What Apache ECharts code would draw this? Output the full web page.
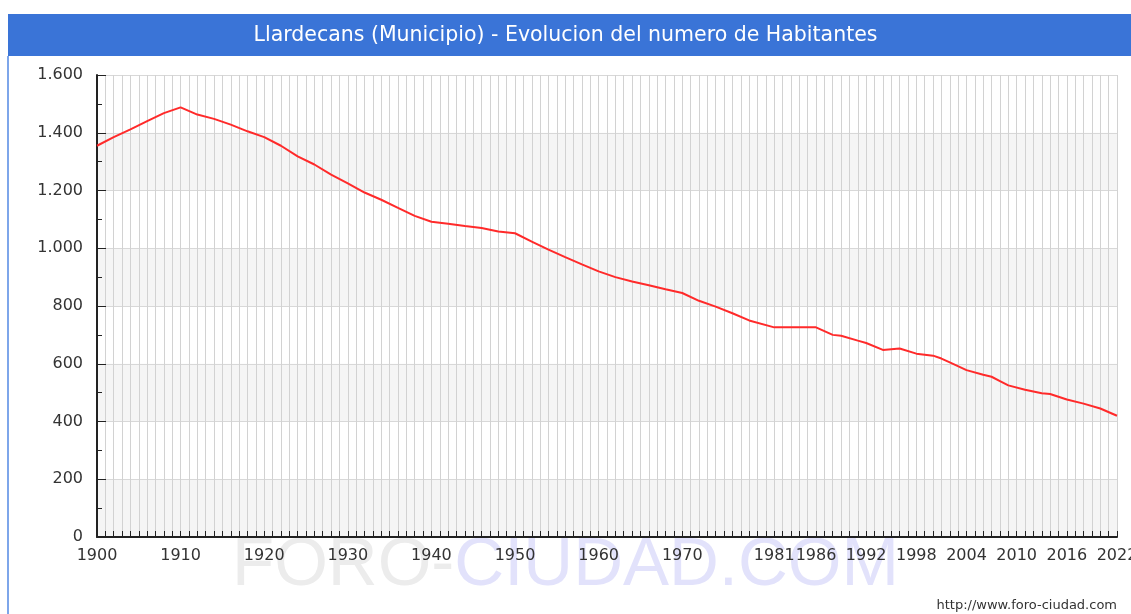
<!DOCTYPE html>
<html>
<head>
<meta charset="utf-8">
<title>Llardecans - Evolucion del numero de Habitantes</title>
<script src="https://cdn.jsdelivr.net/npm/echarts@6/dist/echarts.min.js"></script>
<style>
  html, body { margin: 0; padding: 0; background: #fff; }
  #chart { width: 1131px; height: 614px; }
</style>
</head>
<body>
<div id="chart"></div>
<script>
// años y habitantes
const years = [1900, 1902, 1904, 1906, 1908, 1910, 1912, 1914, 1916, 1918,
    1920, 1922, 1924, 1926, 1928, 1930, 1932, 1934, 1936, 1938,
    1940, 1942, 1944, 1946, 1948, 1950, 1952, 1954, 1956, 1958,
    1960, 1962, 1964, 1966, 1968, 1970, 1972, 1974, 1976, 1978,
    1981, 1986, 1988, 1989, 1991, 1992, 1994, 1996, 1998, 2000,
    2001, 2002, 2004, 2006, 2007, 2008, 2009, 2011, 2013, 2014,
    2016, 2018, 2020, 2022];
const habitantes = [1355, 1385, 1412, 1440, 1468, 1488, 1463, 1448, 1428, 1405,
    1385, 1355, 1318, 1290, 1255, 1225, 1193, 1168, 1140, 1112,
    1092, 1085, 1077, 1070, 1058, 1052, 1023, 995, 969, 944,
    920, 900, 885, 872, 858, 845, 818, 798, 775, 750,
    726, 726, 700, 697, 680, 672, 648, 653, 635, 628,
    618, 605, 578, 562, 555, 540, 525, 510, 498, 495,
    476, 462, 445, 420];

// etiquetas del eje X
const xLabelYears = [1900, 1910, 1920, 1930, 1940, 1950, 1960, 1970,
    1981, 1986, 1992, 1998, 2004, 2010, 2016, 2022];

const titulo = 'Llardecans (Municipio) - Evolucion del numero de Habitantes';

const chart = echarts.init(document.getElementById('chart'));

// separador de miles con punto
function formatMiles(v) {
    return String(v).replace(/\B(?=(\d{3})+(?!\d))/g, '.');
}

const option = {
    backgroundColor: '#fff',
    animation: false,
    title: {
        text: titulo,
        left: 'center',
        top: 25,
        padding: 0,
        textStyle: {
            color: '#fff',
            fontFamily: 'DejaVu Sans',
            fontSize: 20.5,
            fontWeight: 'normal'
        }
    },
    graphic: [
        // barra azul del titulo
        {
            type: 'rect', z: -20,
            shape: { x: 8, y: 14, width: 1123, height: 42 },
            style: { fill: '#3a74d7' }
        },
        // borde izquierdo
        {
            type: 'rect', z: -20,
            shape: { x: 7, y: 56, width: 2, height: 558 },
            style: { fill: '#7ea6ea' }
        },
        // marca de agua
        {
            type: 'text', z: -10,
            x: 232, y: 531,
            style: {
                text: '{a|FORO-}{b|CIUDAD.COM}',
                rich: {
                    a: { fontFamily: 'Liberation Sans', fontSize: 69, fill: '#ececec' },
                    b: { fontFamily: 'Liberation Sans', fontSize: 69, fill: '#e2e2fb' }
                }
            }
        },
        {
            type: 'text',
            x: 1117, y: 606,
            style: {
                text: 'http://www.foro-ciudad.com',
                align: 'right',
                verticalAlign: 'middle',
                fontFamily: 'DejaVu Sans',
                fontSize: 13,
                fill: '#333'
            }
        }
    ],
    grid: {
        left: 97,
        right: 14,
        top: 75,
        bottom: 77,
        outerBoundsMode: 'none'
    },
    xAxis: {
        type: 'value',
        min: 1900,
        max: 2022,
        interval: 1,
        axisLine: { show: true, onZero: false, lineStyle: { color: '#222', width: 2 } },
        axisTick: { show: true, inside: true, length: 6, lineStyle: { color: '#222' } },
        axisLabel: {
            margin: 11,
            color: '#333',
            fontFamily: 'DejaVu Sans',
            fontSize: 16,
            formatter: function (v) {
                return xLabelYears.indexOf(v) >= 0 ? String(v) : '';
            }
        },
        splitLine: { show: true, lineStyle: { color: '#d2d2d2', width: 1 } }
    },
    yAxis: {
        type: 'value',
        min: 0,
        max: 1600,
        interval: 200,
        axisLine: { show: true, lineStyle: { color: '#222', width: 2 } },
        axisTick: { show: true, inside: true, length: 9, lineStyle: { color: '#222' } },
        minorTick: { show: true, splitNumber: 2, length: 5, lineStyle: { color: '#222' } },
        axisLabel: {
            margin: 14,
            color: '#333',
            fontFamily: 'DejaVu Sans',
            fontSize: 16,
            formatter: formatMiles
        },
        splitLine: { show: true, lineStyle: { color: '#d8d8d8' } },
        splitArea: { show: true, areaStyle: { color: ['rgba(236,236,236,0.55)', 'rgba(255,255,255,0)'] } }
    },
    series: [{
        type: 'line',
        data: years.map((y, i) => [y, habitantes[i]]),
        showSymbol: false,
        symbol: 'none',
        lineStyle: { color: '#ff2a2a', width: 2 },
        z: 5
    }]
};

chart.setOption(option);

window.addEventListener('resize', function () {
    chart.resize();
});
</script>
</body>
</html>
